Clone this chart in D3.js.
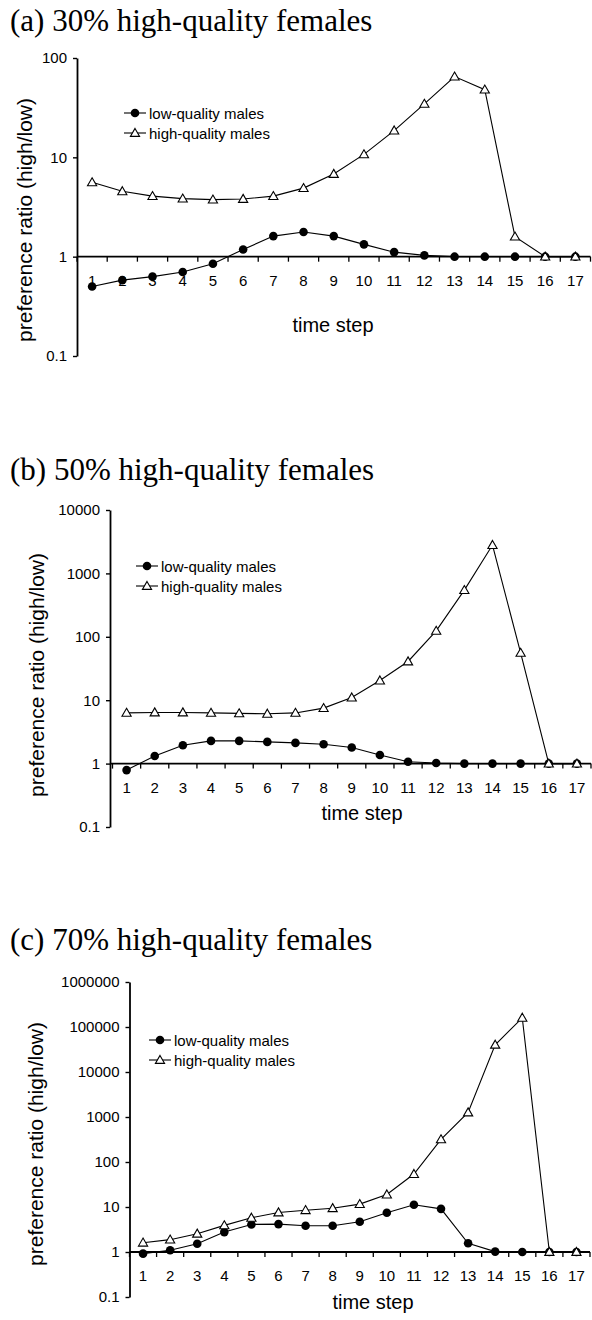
<!DOCTYPE html>
<html lang="en">
<head>
<meta charset="utf-8" />
<title>Preference ratio · time step</title>
<style>
html,body{margin:0;background:#fff}
svg{display:block}
.title{font:31px "Liberation Serif","Times New Roman",serif;fill:#000}
.lbl{font-family:"Liberation Sans",Arial,sans-serif;fill:#000}
</style>
<script src="https://cdn.jsdelivr.net/npm/d3@7/dist/d3.min.js"></script>
</head>
<body>
<div id="chart"></div>

<script>
/* ----------------------------- data ---------------------------------- */
const steps = d3.range(1, 18);                     // time step 1..17
const seriesNames = ["low-quality males", "high-quality males"];

const ticksA = [0.1, 1, 10, 100];
const lowA  = [0.50, 0.58, 0.63, 0.70, 0.85, 1.18, 1.61, 1.77, 1.61, 1.33, 1.11, 1.03, 1, 1, 1, 1, 1];
const highA = [5.6, 4.55, 4.07, 3.84, 3.75, 3.81, 4.07, 4.9, 6.8, 10.7, 18.6, 34.5, 65, 48, 1.59, 1, 1];

const ticksB = [0.1, 1, 10, 100, 1000, 10000];
const lowB  = [0.79, 1.32, 1.95, 2.28, 2.28, 2.2, 2.12, 2.02, 1.79, 1.37, 1.07, 1.02, 1, 1, 1, 1, 1];
const highB = [6.3, 6.4, 6.4, 6.3, 6.2, 6.1, 6.3, 7.5, 11, 20.4, 40.8, 124, 545, 2800, 55.8, 1, 1];

const ticksC = [0.1, 1, 10, 100, 1000, 10000, 100000, 1000000];
const lowC  = [0.92, 1.09, 1.53, 2.77, 4.1, 4.17, 3.83, 3.83, 4.7, 7.43, 11.2, 9.1, 1.56, 1.02, 1, 1, 1];
const highC = [1.61, 1.88, 2.55, 3.9, 5.75, 7.55, 8.5, 9.4, 11.6, 18.9, 54, 318, 1260, 40300, 160000, 1, 1];

/* ---------------------------- layout --------------------------------- */
const W = 592, H = 1320;
const panels = [
  {title: "(a) 30% high-quality females", titleY: 31, ticks: ticksA, low: lowA, high: highA,
   axisX: 77, x0: 77, x1: 590.5, yTop: 58, yBot: 356, ylabX: 32, ylabY: 220,
   legX: 124, legY: 113, xtitleX: 333, xtitleY: 332},
  {title: "(b) 50% high-quality females", titleY: 480, ticks: ticksB, low: lowB, high: highB,
   axisX: 110, x0: 112.5, x1: 591, yTop: 510, yBot: 827, ylabX: 44, ylabY: 675,
   legX: 136, legY: 566, xtitleX: 362, xtitleY: 820},
  {title: "(c) 70% high-quality females", titleY: 950, ticks: ticksC, low: lowC, high: highC,
   axisX: 129.5, x0: 129.5, x1: 590, yTop: 982, yBot: 1297, ylabX: 43, ylabY: 1144,
   legX: 149, legY: 1040, xtitleX: 373, xtitleY: 1309}
];

const svg = d3.select("#chart").append("svg")
  .attr("width", W).attr("height", H)
  .attr("viewBox", [0, 0, W, H]);

const tri = "M0,-4.6L4.6,3.4L-4.6,3.4Z";

function drawMarker(g, kind) {
  if (kind === 0) {
    g.append("circle").attr("r", 4.3).attr("fill", "#000");
  } else {
    g.append("path").attr("d", tri).attr("fill", "#fff")
     .attr("stroke", "#000").attr("stroke-width", 1.1);
  }
}

panels.forEach(p => {
  const g = svg.append("g");

  g.append("text").attr("class", "title")
   .attr("x", 10).attr("y", p.titleY).text(p.title);

  const y = d3.scaleLog()
    .domain([p.ticks[0], p.ticks[p.ticks.length - 1]])
    .range([p.yBot, p.yTop]);
  const x = d3.scaleBand().domain(steps).range([p.x0, p.x1]).padding(0);

  // y axis
  const ya = g.append("g").attr("transform", `translate(${p.axisX},0)`)
    .call(d3.axisLeft(y).tickValues(p.ticks).tickFormat(d => String(d))
      .tickSize(4).tickSizeOuter(0).tickPadding(6));
  ya.select(".domain").attr("stroke-width", 1.8);
  ya.selectAll(".tick line").attr("stroke-width", 1.4);
  ya.selectAll(".tick text").attr("class", "lbl").style("font-size", "15px");

  // x axis along ratio = 1
  const y1 = y(1);
  g.append("line").attr("x1", p.axisX).attr("x2", p.x1)
   .attr("y1", y1).attr("y2", y1).attr("stroke", "#000").attr("stroke-width", 1.8);
  const bounds = d3.range(steps.length + 1).map(i => p.x0 + i * x.step());
  g.selectAll(".xt").data(bounds).join("line").attr("class", "xt")
   .attr("x1", d => d).attr("x2", d => d)
   .attr("y1", y1).attr("y2", y1 + 5)
   .attr("stroke", "#000").attr("stroke-width", 1.3);
  g.selectAll(".xl").data(steps).join("text").attr("class", "xl lbl")
   .attr("x", d => x(d) + x.bandwidth() / 2).attr("y", y1 + 29)
   .attr("text-anchor", "middle").style("font-size", "15px").text(d => d);

  // axis titles
  g.append("text").attr("class", "lbl")
   .attr("transform", `translate(${p.ylabX},${p.ylabY}) rotate(-90)`)
   .attr("text-anchor", "middle").style("font-size", "21px")
   .text("preference ratio (high/low)");
  g.append("text").attr("class", "lbl")
   .attr("x", p.xtitleX).attr("y", p.xtitleY)
   .attr("text-anchor", "middle").style("font-size", "20px").text("time step");

  // series
  const line = d3.line().x((d, i) => x(steps[i]) + x.bandwidth() / 2).y(d => y(d));
  [p.low, p.high].forEach(vals => {
    g.append("path").datum(vals).attr("d", line)
     .attr("fill", "none").attr("stroke", "#000").attr("stroke-width", 1.1);
  });
  [p.low, p.high].forEach((vals, k) => {
    vals.forEach((v, i) => {
      const m = g.append("g")
        .attr("transform", `translate(${x(steps[i]) + x.bandwidth() / 2},${y(v)})`);
      drawMarker(m, k);
    });
  });

  // legend
  seriesNames.forEach((name, k) => {
    const ly = p.legY + k * 20;
    g.append("line").attr("x1", p.legX).attr("x2", p.legX + 22)
     .attr("y1", ly).attr("y2", ly).attr("stroke", "#000").attr("stroke-width", 1.1);
    const m = g.append("g").attr("transform", `translate(${p.legX + 11},${ly})`);
    drawMarker(m, k);
    g.append("text").attr("class", "lbl")
     .attr("x", p.legX + 25).attr("y", ly + 5.5)
     .style("font-size", "15px").text(name);
  });
});
</script>
</body>
</html>
